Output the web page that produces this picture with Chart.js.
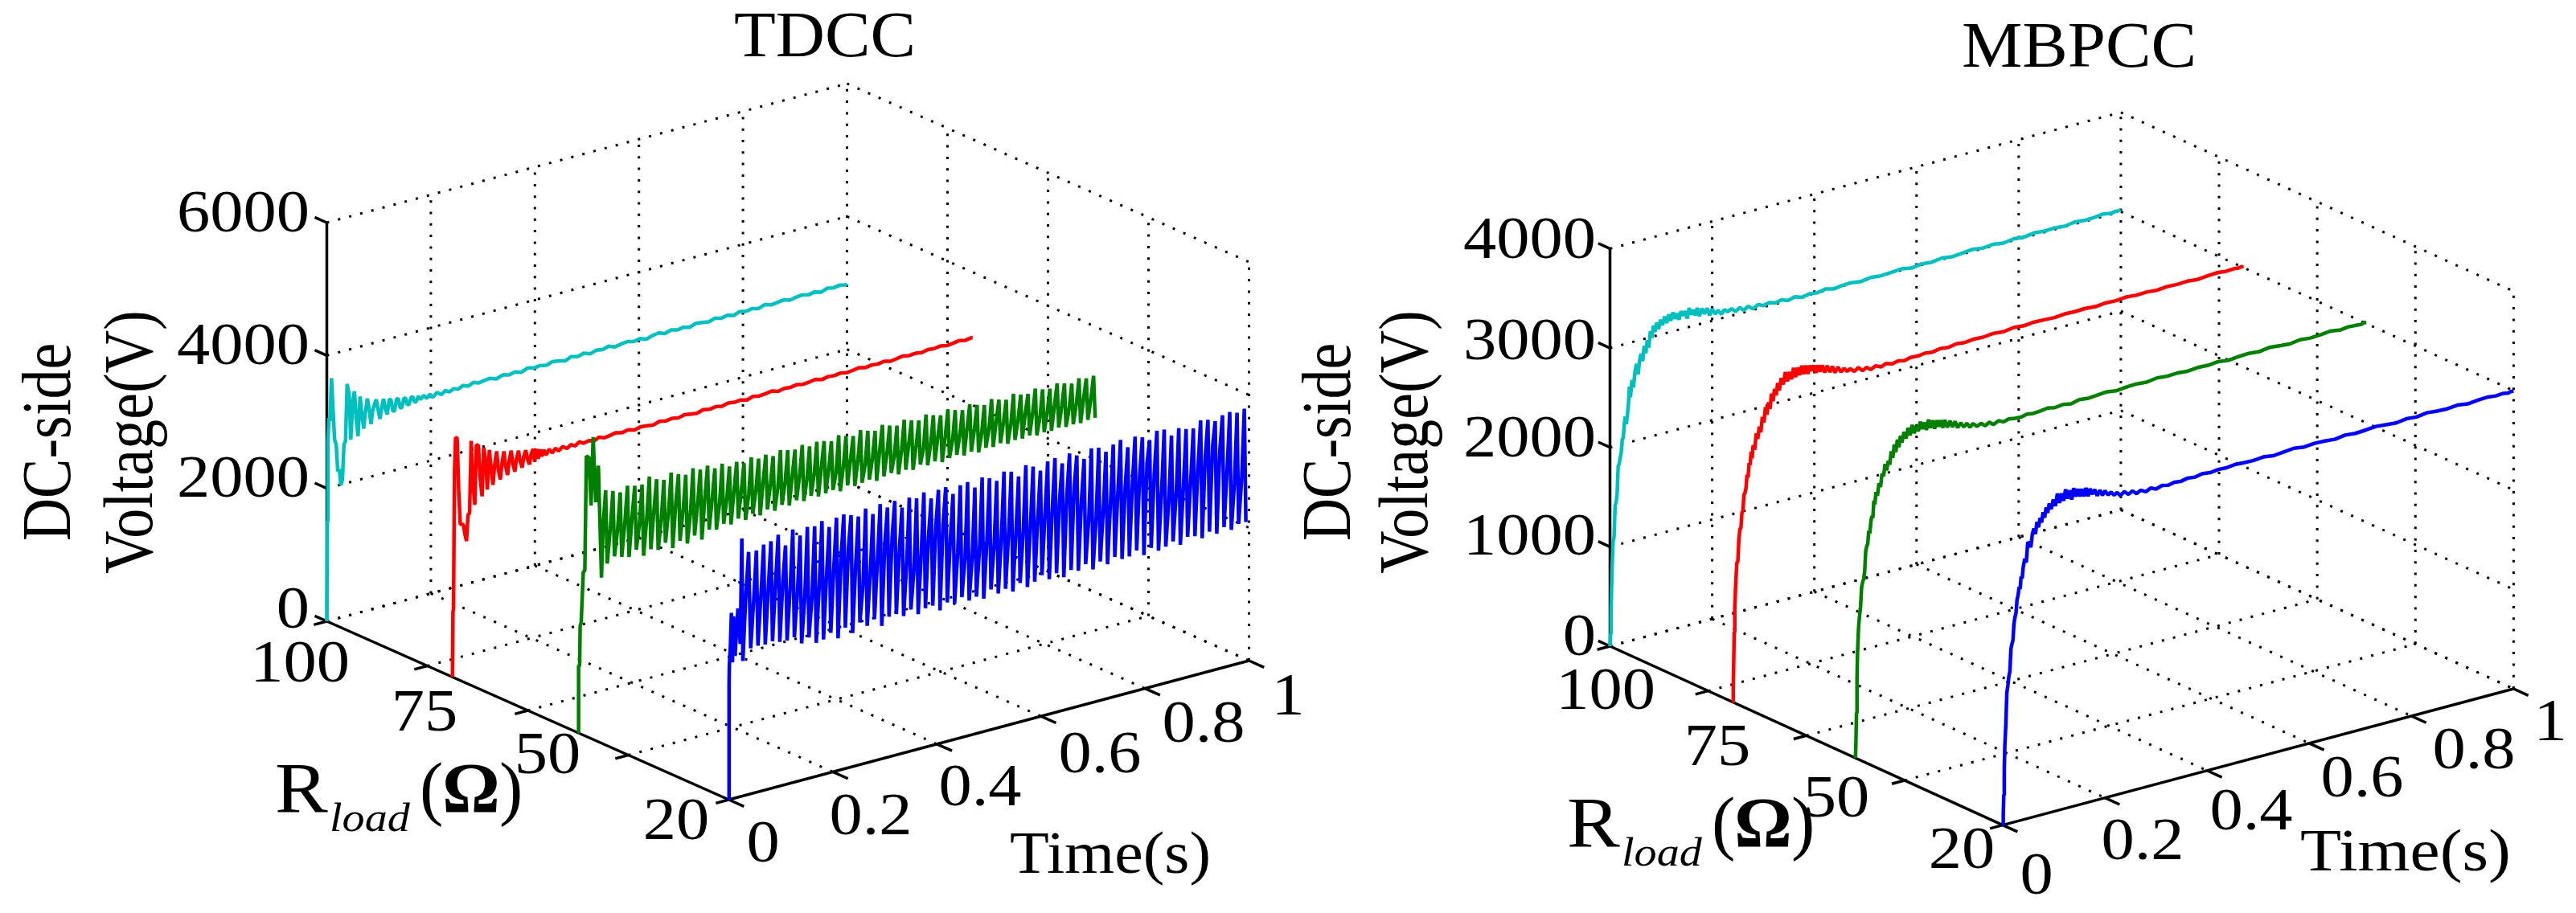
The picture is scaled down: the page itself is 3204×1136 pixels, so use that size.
<!DOCTYPE html>
<html>
<head>
<meta charset="utf-8">
<title>TDCC / MBPCC</title>
<script src="https://cdn.jsdelivr.net/npm/chart.js@4"></script>
<style>
  html, body { margin: 0; padding: 0; background: #fff; }
  canvas { display: block; }
</style>
</head>
<body>
<canvas id="mychart" width="3204" height="1136"></canvas>
<script>
// ---------- data ----------
const timeTicks = [0, 0.2, 0.4, 0.6, 0.8, 1]
const timeTickLabels = ['0', '0.2', '0.4', '0.6', '0.8', '1']
const loadTicks = [100, 80, 60, 40, 20]
const loadTickLabels = ['100', '75', '50', '20']
const tdccVoltTicks = [0, 2000, 4000, 6000]
const mbpccVoltTicks = [0, 1000, 2000, 3000, 4000]
const loadValues = [100, 75, 50, 20]

// TDCC, R = 100 and 75: ripple dies out, shared sample times
const decayTimes = [
  0,.001,.002,.004,.006,.009,.012,.015,.018,.021,
  .024,.027,.030,.033,.036,.039,.043,.046,.050,.053,
  .057,.060,.064,.067,.071,.074,.078,.081,.085,.088,
  .092,.095,.099,.102,.106,.109,.113,.116,.120,.123,
  .127,.130,.134,.137,.141,.144,.148,.151,.155,.158,
  .162,.165,.169,.172,.176,.180,.186,.192,.198,.204,
  .212,.220,.228,.236,.244,.252,.262,.272,.282,.292,
  .302,.314,.326,.338,.350,.362,.374,.386,.398,.410,
  .422,.434,.446,.458,.470,.482,.494,.506,.518,.530,
  .542,.554,.566,.578,.590,.602,.614,.626,.638,.650,
  .662,.674,.686,.698,.710,.722,.734,.746,.758,.770,
  .782,.794,.806,.818,.830,.842,.854,.866,.878,.890,
  .902,.914,.926,.938,.950,.962,.974,.986,.998,1
]
const tdccCyan = [
  0,1500,2700,3050,3000,3640,3150,2700,2620,2210,
  2240,1990,2070,2590,2640,3490,3320,2640,3200,3350,
  2900,2660,3250,3000,2750,2990,3190,3040,2790,2980,
  3080,3140,2960,2830,3010,3120,2950,2870,3080,3085,
  2900,2890,3060,3070,2920,2910,3040,3050,2930,2935,
  3030,3035,2940,2950,3020,2960,3010,2955,3000,2945,
  3000,2950,2995,2960,2990,2965,3000,2970,3005,2975,
  2990,3000,2965,3000,2975,2995,2965,3005,2980,2990,
  2970,3000,2985,2960,3000,2975,3000,2965,2995,2980,
  3005,2970,2990,3000,2975,2995,2960,2990,3005,2970,
  3000,2975,2990,2965,3000,2985,2970,3000,2975,2995,
  2965,3000,2980,2995,2970,3005,2975,2985,3000,2970,
  2990,3000,2975,2995,2965,3000,2980,2995,2975,2990
]
const tdccRed = [
  0,990,1000,3100,3590,3580,2790,2270,2260,2250,
  2100,1990,2380,2400,3480,2900,2500,3400,3380,2900,
  2600,3330,3100,2680,3270,3000,2730,3020,3220,2950,
  2780,3000,3190,2960,2820,3030,3170,2970,2840,3020,
  3140,2980,2870,3030,3120,2985,2890,3030,3110,2910,
  3095,2940,3070,2960,3050,2965,3040,2970,3030,2975,
  3025,2980,3020,2985,3030,2990,3010,2985,3020,2990,
  3000,3020,2995,3015,2985,3010,3000,2985,3015,2995,
  3010,2990,3015,3000,2985,3015,2995,3010,2990,3015,
  3000,3010,2985,3015,2995,3005,3020,2990,3010,3000,
  3015,2995,3005,3020,2990,3010,3000,3015,2995,3005,
  3020,2995,3010,3000,3015,2990,3005,3020,3000,3010,
  2995,3015,3005,3020,3000,3010,3025,3005,3020,3015
]

// TDCC, R = 50 and 20: start-up, then one row of [mid, peak, trough] per ripple cycle
const cycleTimes = [
  .048,.062,.076,.090,.104,.118,.132,.146,.160,.174,.188,.202,.216,.230,.244,.258,.272,
  .286,.300,.314,.328,.342,.356,.370,.384,.398,.412,.426,.440,.454,.468,.482,.496,.510,
  .524,.538,.552,.566,.580,.594,.608,.622,.636,.650,.664,.678,.692,.706,.720,.734,.748,
  .762,.776,.790,.804,.818,.832,.846,.860,.874,.888,.902,.916,.930,.944,.958,.972,.986
]
const cycleSamples = [0, .005, .008]

const tdccGreenStartTimes = [0,.001,.003,.004,.006,.010,.013,.016,.021,.025,.029,.034,.039,.045]
const tdccGreenStart = [0,1000,1010,1600,1650,2400,2410,4130,4100,3370,4390,3400,3940,2240]
const tdccGreenCycles = [
  3000,3540,2430, 2950,3500,2510, 2900,3450,2470, 2980,3520,2440,
  3050,3490,2520, 2900,3480,2400, 2950,3570,2470, 3060,3500,2430,
  2890,3460,2510, 2970,3540,2400, 3080,3490,2480, 2930,3450,2410,
  2850,3520,2500, 2980,3470,2410, 3060,3500,2530, 3000,3430,2500,
  2880,3470,2560, 2930,3400,2520, 3040,3440,2580, 3000,3390,2530,
  2900,3450,2590, 2950,3400,2540, 3050,3430,2600, 2980,3380,2550,
  2880,3440,2610, 2930,3410,2570, 3020,3390,2620, 2990,3430,2580,
  2890,3380,2630, 2950,3420,2590, 3040,3400,2610, 2970,3370,2630,
  2880,3430,2580, 2940,3390,2640, 3030,3360,2600, 2990,3420,2620,
  2890,3380,2640, 2950,3350,2590, 3050,3410,2630, 2980,3370,2650,
  2900,3340,2600, 2960,3400,2640, 3040,3360,2610, 2970,3330,2660,
  2890,3390,2620, 2940,3350,2650, 3030,3320,2610, 2990,3380,2640,
  2900,3340,2660, 2950,3310,2620, 3030,3370,2650, 2980,3330,2610,
  2890,3300,2650, 2930,3360,2630, 3020,3320,2660, 2970,3290,2620,
  2900,3350,2650, 2950,3310,2640, 3030,3290,2660, 2990,3340,2630,
  2900,3300,2650, 2940,3280,2640, 3020,3330,2660, 2980,3300,2640,
  2900,3270,2650, 2950,3320,2640, 3010,3290,2660, 2970,3300,2660
]
const tdccBlueStartTimes = [0,.0005,.001,.003,.005,.007,.009,.012,.0175,.022,.025,.027,.032,.038,.042]
const tdccBlueStart = [0,1730,2020,2300,2800,2050,2740,2150,2840,2300,3880,2030,2900,3650,2190]
const tdccBlueCycles = [
  2930,3640,2200, 2980,3700,2190, 3040,3720,2210, 3100,3790,2170,
  3080,3600,2160, 2950,3810,2180, 2850,3690,2060, 2740,3790,2120,
  2720,3770,2010, 2880,3820,2030, 3000,3700,2100, 3090,3810,1990,
  3220,3830,2120, 3320,3790,2010, 3050,3740,2140, 2700,3830,2060,
  2860,3720,2130, 3050,3840,2000, 3250,3760,2110, 3310,3830,2120,
  3100,3700,2060, 2850,3820,2130, 2720,3780,2030, 2950,3840,2090,
  3180,3720,2100, 3290,3820,2000, 3300,3830,2090, 3050,3700,2040,
  2800,3800,2110, 2680,3820,2030, 2670,3710,2060, 2780,3830,2000,
  2830,3790,2110, 2760,3720,2020, 2850,3830,2060, 2900,3800,1990,
  2870,3700,2090, 2860,3840,2000, 2940,3790,2050, 3010,3700,2120,
  3060,3810,2030, 3100,3830,2090, 3200,3720,2000, 3250,3840,2080,
  3330,3780,2040, 3100,3700,2110, 2780,3830,2000, 2740,3810,2090,
  2860,3720,2020, 2980,3800,2100, 3080,3840,2040, 3110,3700,2050,
  3160,3830,2110, 3260,3790,2010, 3390,3720,2090, 3210,3830,2020,
  2900,3820,2050, 2750,3700,2100, 2800,3780,2020, 2890,3740,2110,
  2950,3720,2090, 3120,3810,2030, 3260,3790,2100, 3370,3740,2040,
  3290,3800,2110, 2980,3820,2040, 2730,3780,2100, 2780,3810,2100
]

// MBPCC: all four share these sample times
const rampTimes = [
  0,.001,.002,.003,.004,.006,.008,.010,.012,.014,
  .016,.018,.020,.022,.024,.026,.028,.030,.032,.034,
  .036,.038,.040,.043,.046,.049,.052,.055,.058,.061,
  .064,.067,.070,.073,.076,.079,.082,.085,.088,.091,
  .095,.099,.103,.107,.111,.115,.119,.123,.127,.131,
  .135,.139,.143,.147,.151,.155,.159,.163,.167,.171,
  .175,.180,.185,.190,.195,.200,.206,.212,.218,.224,
  .230,.238,.246,.254,.262,.270,.280,.290,.300,.312,
  .324,.336,.348,.362,.376,.390,.406,.422,.438,.454,
  .470,.490,.510,.530,.550,.570,.590,.610,.630,.650,
  .670,.690,.710,.730,.750,.770,.790,.810,.830,.850,
  .870,.890,.910,.930,.950,.965,.980,.990,.995,1
]
const mbpccCyan = [
  0,120,330,560,760,1040,1090,1400,1430,1520,
  1790,1810,1870,1920,2050,2060,2200,2270,2190,2280,
  2380,2560,2450,2620,2540,2700,2770,2660,2800,2860,
  2780,2930,2850,2980,2900,3060,2990,3110,3040,3130,
  3060,3150,3090,3170,3100,3180,3110,3190,3120,3170,
  3100,3180,3130,3170,3090,3190,3120,3160,3100,3170,
  3080,3150,3090,3140,3060,3120,3060,3090,3040,3080,
  3050,3070,3030,3060,3020,3050,3010,3040,3015,3030,
  3010,3025,3000,3020,2995,3010,3000,3015,2995,3005,
  3010,2995,3010,3000,3005,3015,2995,3010,3000,3015,
  3000,3010,3020,3005,3015,3000,3015,3005,3020,3010,
  3015,3005,3020,3010,3015,3025,3010,3020,3015,3020
]
const mbpccRed = [
  0,150,420,700,950,1200,1390,1400,1620,1720,
  1730,1880,1900,2060,2070,2120,2250,2220,2360,2340,
  2470,2400,2530,2480,2640,2580,2700,2640,2790,2730,
  2880,2800,2920,2850,3000,2920,3040,2970,3090,3010,
  3130,3060,3180,3080,3170,3090,3200,3100,3190,3110,
  3200,3110,3190,3100,3180,3120,3170,3090,3160,3090,
  3150,3070,3130,3060,3110,3040,3090,3030,3060,3020,
  3040,3000,3030,2985,3010,2975,3000,2975,2995,2975,
  2990,2975,2990,2985,2995,2985,3000,2990,3005,2995,
  3005,3000,3010,3000,3015,3005,3015,3010,3005,3015,
  3010,3015,3005,3015,3010,3020,3010,3015,3005,3015,
  3010,3015,3005,3015,3020,3010,3015,3010,3015,3010
]
const mbpccGreen = [
  0,180,450,780,1050,1300,1420,1510,1700,1750,
  1780,1850,2050,2100,2120,2250,2220,2330,2390,2370,
  2540,2500,2620,2580,2700,2660,2790,2760,2880,2810,
  2900,2860,2990,2920,3050,2970,3090,3010,3120,3050,
  3150,3080,3180,3100,3200,3110,3180,3120,3210,3130,
  3190,3110,3210,3120,3190,3100,3180,3110,3170,3090,
  3160,3080,3140,3070,3120,3050,3090,3040,3070,3020,
  3050,3010,3030,2995,3020,2985,3010,2985,3000,2990,
  2985,3000,2990,2995,3005,2990,3000,2985,3005,2995,
  3000,3010,2995,3005,3010,3000,3015,3005,3010,3000,
  3010,3005,3015,3000,3010,3015,3005,3020,3010,3000,
  3015,3005,3010,3020,3005,3015,3010,3005,3015,3010
]
const mbpccBlue = [
  0,100,300,550,780,1000,1320,1390,1480,1530,
  1750,1800,1830,2000,2060,2100,2230,2270,2350,2330,
  2450,2430,2540,2620,2580,2780,2760,2720,2850,2900,
  2840,2960,2900,2990,2940,3040,2980,3080,3020,3110,
  3050,3140,3070,3190,3090,3180,3100,3210,3110,3190,
  3090,3200,3110,3180,3100,3170,3090,3170,3080,3150,
  3090,3130,3060,3110,3050,3090,3040,3060,3020,3040,
  3000,3030,2990,3015,2975,3000,2970,2995,2970,2990,
  2975,2990,2980,2995,2985,3000,2990,3000,2995,3005,
  3000,2995,3005,2990,3000,3010,2995,3005,3000,2990,
  3005,2995,3000,3010,3000,2990,3005,2995,3010,3000,
  2995,3005,2990,3000,3005,2995,3000,2990,3000,2995
]

// ---------- layout of the two 3D boxes ----------
const colors = { cyan: '#00bfbf', red: '#ff0000', green: '#008000', blue: '#0000ff' }

const tdccBox = {
  origin: [406.5, 773], timeVec: [647, -173], loadVec: [500, 222], voltVec: [0, -496], voltMax: 6000,
  voltTicks: tdccVoltTicks
}
const mbpccBox = {
  origin: [2002.5, 804], timeVec: [635.4, -169.6], loadVec: [488.5, 222.6], voltVec: [0, -494.6], voltMax: 4000,
  voltTicks: mbpccVoltTicks
}

// 3D -> page position (the view is orthographic, so this is just vector adding)
function project(box, t, load, volt) {
  const r = (100 - load) / 80
  const v = volt / box.voltMax
  return {
    x: box.origin[0] + box.timeVec[0] * t + box.loadVec[0] * r + box.voltVec[0] * v,
    y: box.origin[1] + box.timeVec[1] * t + box.loadVec[1] * r + box.voltVec[1] * v
  }
}

function seg(box, a, b, style) {
  return Object.assign({
    data: [project(box, a[0], a[1], a[2]), project(box, b[0], b[1], b[2])],
    pointRadius: 0, borderColor: '#000', parsing: false, fill: false, tension: 0
  }, style)
}

function boxDatasets(box) {
  const out = []
  const vMax = box.voltMax
  const dots = { borderWidth: 3, borderDash: [3, 11.3], order: 10 }
  const solid = { borderWidth: 3.5, order: 5 }

  // walls and floor
  box.voltTicks.forEach(v => {
    out.push(seg(box, [0, 100, v], [1, 100, v], dots))
    out.push(seg(box, [1, 100, v], [1, 20, v], dots))
  })
  timeTicks.forEach(t => {
    if (t > 0) {
      out.push(seg(box, [t, 100, 0], [t, 100, vMax], dots))
      out.push(seg(box, [t, 100, 0], [t, 20, 0], dots))
    }
  })
  loadTicks.forEach(l => {
    if (l < 100) out.push(seg(box, [1, l, 0], [1, l, vMax], dots))
    if (l > 20) out.push(seg(box, [0, l, 0], [1, l, 0], dots))
  })

  // axis lines and ticks
  out.push(seg(box, [0, 100, 0], [0, 100, vMax], solid))
  out.push(seg(box, [0, 100, 0], [0, 20, 0], solid))
  out.push(seg(box, [0, 20, 0], [1, 20, 0], solid))
  box.voltTicks.forEach(v => out.push(seg(box, [0, 100, v], [0, 102.4, v], solid)))
  loadTicks.forEach(l => out.push(seg(box, [0, l, 0], [-0.025, l, 0], solid)))
  timeTicks.forEach(t => out.push(seg(box, [t, 20, 0], [t, 17, 0], solid)))
  return out
}

function trace(box, load, times, volts, color, order, width) {
  return {
    data: volts.map((v, i) => project(box, times[i], load, v)),
    borderColor: color, borderWidth: width || 4.5, borderJoinStyle: 'bevel',
    pointRadius: 0, parsing: false, fill: false, tension: 0, order: order
  }
}

// start-up samples, then [mid, peak, trough] rows laid out on the cycle times
function rippleTrace(box, load, startTimes, start, cycles, color, order) {
  const times = startTimes.slice()
  const volts = start.slice()
  cycleTimes.forEach((t, c) => {
    cycleSamples.forEach((dt, k) => {
      times.push(t + dt)
      volts.push(cycles[c * 3 + k])
    })
  })
  return trace(box, load, times, volts, color, order, 4.5)
}

const datasets = [
  trace(tdccBox, loadValues[0], decayTimes, tdccCyan, colors.cyan, 4),
  trace(tdccBox, loadValues[1], decayTimes, tdccRed, colors.red, 3),
  rippleTrace(tdccBox, loadValues[2], tdccGreenStartTimes, tdccGreenStart, tdccGreenCycles, colors.green, 2),
  rippleTrace(tdccBox, loadValues[3], tdccBlueStartTimes, tdccBlueStart, tdccBlueCycles, colors.blue, 1),
  trace(mbpccBox, loadValues[0], rampTimes, mbpccCyan, colors.cyan, 4),
  trace(mbpccBox, loadValues[1], rampTimes, mbpccRed, colors.red, 3),
  trace(mbpccBox, loadValues[2], rampTimes, mbpccGreen, colors.green, 2),
  trace(mbpccBox, loadValues[3], rampTimes, mbpccBlue, colors.blue, 1)
].concat(boxDatasets(tdccBox), boxDatasets(mbpccBox))

// ---------- text ----------
const FONT = '"Liberation Serif"'
const labels = []
function text(str, x, y, o) {
  labels.push(Object.assign({ str, x, y, size: 75, sx: 1.1, align: 'center', base: 'alphabetic', rot: 0, style: '' }, o))
}

function boxText(p) {
  text(p.title, p.titleX, p.titleY, { size: 80, sx: 1.06 })
  p.voltY.forEach((y, i) => text(String(p.voltTicks[i]), p.voltX, y, { align: 'right', base: 'middle' }))
  p.loadPos.forEach((q, i) => text(loadTickLabels[i], q[0], q[1], { base: 'middle' }))
  p.timePos.forEach((q, i) => text(timeTickLabels[i], q[0], q[1], { base: 'middle' }))
  text('DC-side', p.dcX, 550, { rot: -Math.PI / 2, sx: 1.18, size: 74 })
  text('Voltage(V)', p.voltageX, 550, { rot: -Math.PI / 2, sx: 1.18, size: 74 })
  text('Time(s)', p.timeLabel[0], p.timeLabel[1], { sx: p.timeSx, size: 74 })
  text('R', p.rload[0], p.rload[1], { align: 'left', size: 88, sx: 1.12 })
  text('load', p.rload[0] + 68, p.rload[1] + 24, { align: 'left', size: 51, sx: 1.1, style: 'italic ' })
  text('(', p.rload[0] + 180, p.rload[1], { align: 'left', size: 88, sx: 1 })
  text('Ω', p.rload[0] + 208, p.rload[1], { align: 'left', size: 88, sx: 1.02, style: 'bold ' })
  text(')', p.rload[0] + 279, p.rload[1], { align: 'left', size: 88, sx: 1 })
}

boxText({
  title: 'TDCC', titleX: 1026, titleY: 70,
  voltTicks: tdccVoltTicks, voltX: 385, voltY: [761, 598, 433, 268],
  loadPos: [[373, 828], [528, 889], [681, 942], [841, 1024]],
  timePos: [[949, 1052], [1083, 1018], [1219, 982], [1368, 941], [1497, 903], [1602, 869]],
  dcX: 87, voltageX: 189, timeLabel: [1381, 1086], timeSx: 1.08, rload: [342, 1010]
})
boxText({
  title: 'MBPCC', titleX: 2586, titleY: 83,
  voltTicks: mbpccVoltTicks, voltX: 1985, voltY: [795, 670, 548, 427, 301],
  loadPos: [[1997, 862], [2136, 932], [2284, 996], [2440, 1060]],
  timePos: [[2533, 1092], [2665, 1049], [2800, 1012], [2938, 971], [3077, 936], [3172, 901]],
  dcX: 1679, voltageX: 1775, timeLabel: [2992, 1083], timeSx: 1.13, rload: [1949, 1053]
})

const textPlugin = {
  id: 'boxText',
  afterDraw(chart) {
    const c = chart.ctx
    c.save()
    c.fillStyle = '#000'
    labels.forEach(l => {
      c.save()
      c.translate(l.x, l.y)
      c.scale(l.sx, 1)
      if (l.rot) c.rotate(l.rot)
      c.font = l.style + l.size + 'px ' + FONT
      c.textAlign = l.align
      c.textBaseline = l.base
      c.fillText(l.str, 0, 0)
      c.restore()
    })
    c.restore()
  }
}

const ctx = document.getElementById('mychart')
new Chart(ctx, {
  type: 'line',
  data: { datasets },
  options: {
    responsive: false,
    animation: false,
    devicePixelRatio: 1,
    layout: { padding: 0 },
    plugins: { legend: { display: false }, tooltip: { enabled: false }, title: { display: false } },
    elements: { line: { capBezierPoints: false } },
    scales: {
      x: { type: 'linear', min: 0, max: 3204, display: false },
      y: { type: 'linear', min: 0, max: 1136, reverse: true, display: false }
    }
  },
  plugins: [textPlugin]
})
</script>
</body>
</html>
